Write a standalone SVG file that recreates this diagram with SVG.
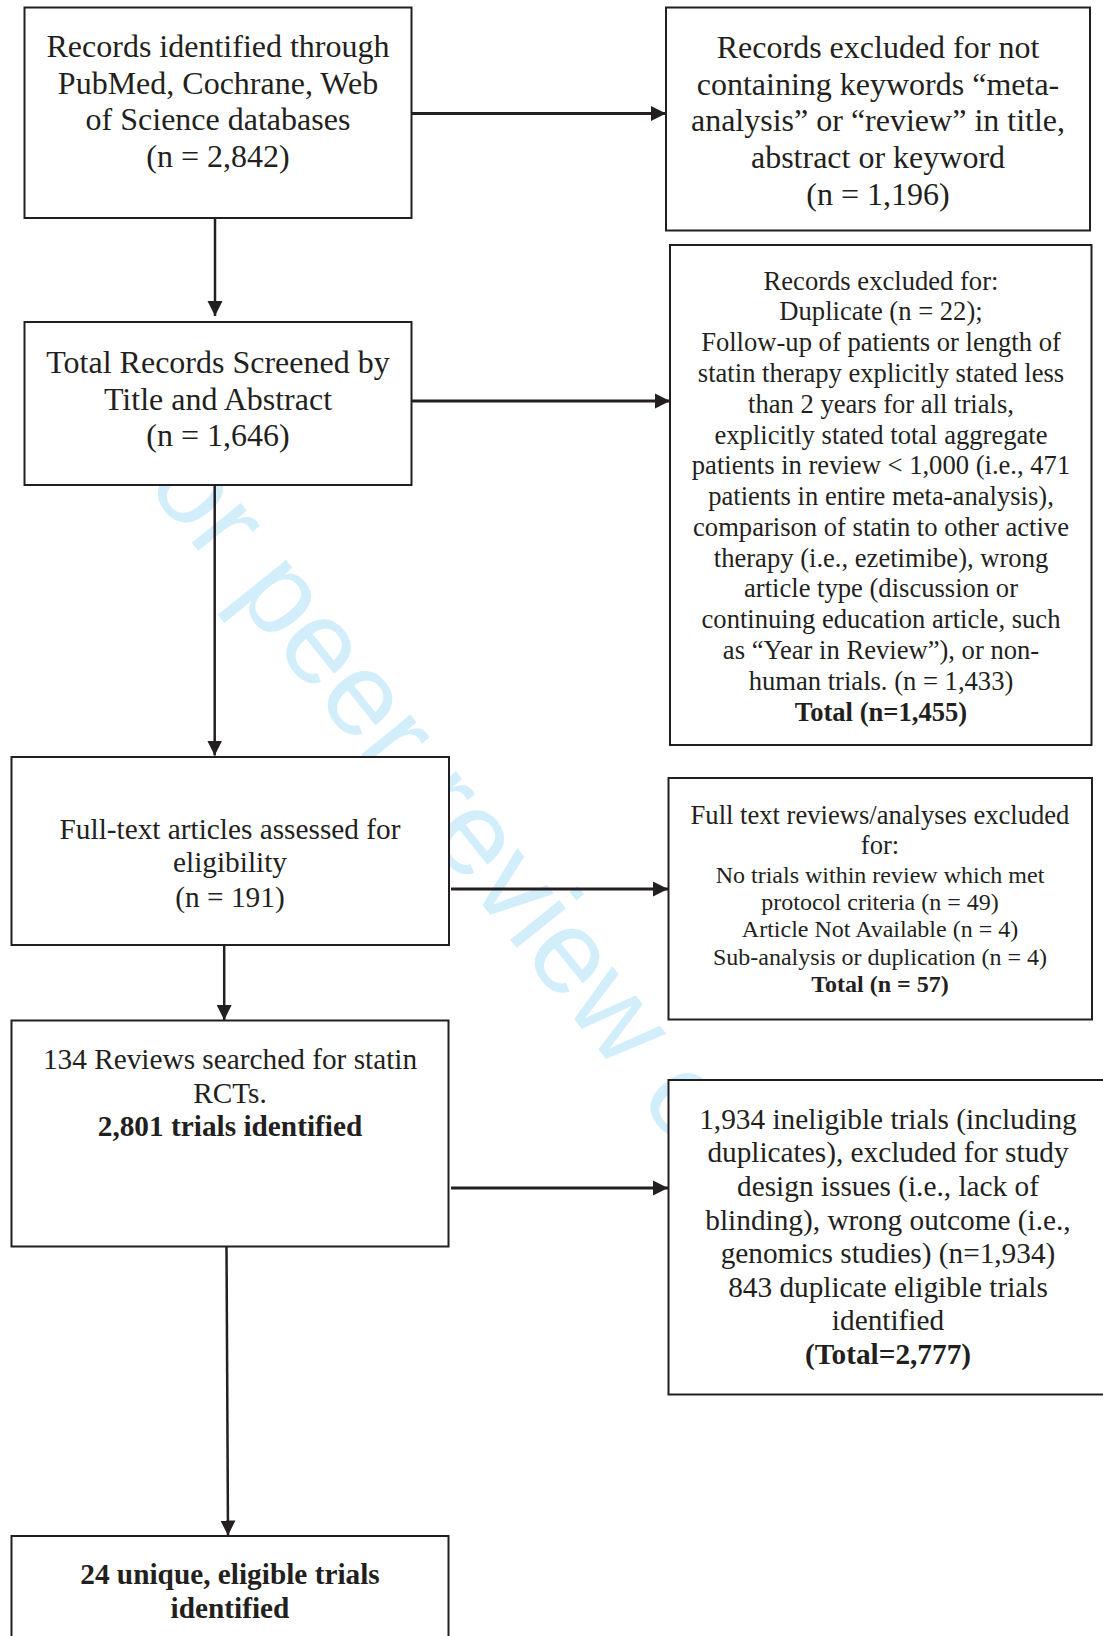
<svg xmlns="http://www.w3.org/2000/svg" width="1103" height="1636" viewBox="0 0 1103 1636">
<style>
.bx{fill:#fff;stroke:#231f20;stroke-width:2}
.t{font-family:"Liberation Serif","Times New Roman",serif;fill:#231f20;text-anchor:middle}
.f32{font-size:32px}
.f29{font-size:29.3px}
.f27{font-size:26.6px}
.f24{font-size:24px}
.b{font-weight:bold}
.v{stroke:#231f20;stroke-width:2.5;fill:none}
.h{stroke:#231f20;stroke-width:3;fill:none}
.wm{font-family:"Liberation Sans",Arial,sans-serif;font-size:119px;fill:#d3eefb}
</style>
<defs>
<marker id="ah" markerUnits="userSpaceOnUse" markerWidth="16" markerHeight="16" refX="15" refY="8" orient="auto" viewBox="0 0 16 16">
<path d="M0,0.5 L15,8 L0,15.5 z" fill="#231f20"/>
</marker>
</defs>
<rect width="1103" height="1636" fill="#fff"/>
<text class="wm" transform="translate(99.5,428) rotate(51.25)">For peer review only</text>

<g id="connectors">
<line class="h" x1="412" y1="113.5" x2="666" y2="113.5" marker-end="url(#ah)"/>
<line class="v" x1="215" y1="218" x2="215" y2="316" marker-end="url(#ah)"/>
<line class="h" x1="412" y1="401" x2="670" y2="401" marker-end="url(#ah)"/>
<line class="v" x1="214.7" y1="485" x2="214.7" y2="755.5" marker-end="url(#ah)"/>
<line class="h" x1="451" y1="889" x2="668" y2="889" marker-end="url(#ah)"/>
<line class="v" x1="224.2" y1="945" x2="224.2" y2="1020" marker-end="url(#ah)"/>
<line class="h" x1="451" y1="1188" x2="668" y2="1188" marker-end="url(#ah)"/>
<line class="v" x1="226.5" y1="1246.5" x2="228" y2="1535.5" marker-end="url(#ah)"/>
</g>

<g id="identified">
<rect class="bx" x="24.5" y="7.5" width="387" height="210.5"/>
<text class="t f32" x="218"><tspan x="218" y="57">Records identified through</tspan><tspan x="218" y="93.5">PubMed, Cochrane, Web</tspan><tspan x="218" y="130">of Science databases</tspan><tspan x="218" y="166.5">(n = 2,842)</tspan></text>
</g>

<g id="excluded-keywords">
<rect class="bx" x="666" y="7.5" width="424" height="223"/>
<text class="t f32"><tspan x="878" y="58">Records excluded for not</tspan><tspan x="878" y="94.5">containing keywords “meta-</tspan><tspan x="878" y="131">analysis” or “review” in title,</tspan><tspan x="878" y="167.5">abstract or keyword</tspan><tspan x="878" y="204.5">(n = 1,196)</tspan></text>
</g>

<g id="screened">
<rect class="bx" x="24.5" y="322" width="387" height="163"/>
<text class="t f32"><tspan x="218" y="373">Total Records Screened by</tspan><tspan x="218" y="409.5">Title and Abstract</tspan><tspan x="218" y="446">(n = 1,646)</tspan></text>
</g>

<g id="excluded-screening">
<rect class="bx" x="670" y="245" width="421.5" height="500"/>
<text class="t f27"><tspan x="881" y="289.5">Records excluded for:</tspan><tspan x="881" y="320.3">Duplicate (n = 22);</tspan><tspan x="881" y="351.1">Follow-up of patients or length of</tspan><tspan x="881" y="381.9">statin therapy explicitly stated less</tspan><tspan x="881" y="412.7">than 2 years for all trials,</tspan><tspan x="881" y="443.5">explicitly stated total aggregate</tspan><tspan x="881" y="474.2">patients in review &lt; 1,000 (i.e., 471</tspan><tspan x="881" y="505">patients in entire meta-analysis),</tspan><tspan x="881" y="535.8">comparison of statin to other active</tspan><tspan x="881" y="566.6">therapy (i.e., ezetimibe), wrong</tspan><tspan x="881" y="597.4">article type (discussion or</tspan><tspan x="881" y="628.2">continuing education article, such</tspan><tspan x="881" y="659">as “Year in Review”), or non-</tspan><tspan x="881" y="689.8">human trials. (n = 1,433)</tspan><tspan x="881" y="720.5" class="b">Total (n=1,455)</tspan></text>
</g>

<g id="fulltext">
<rect class="bx" x="11.5" y="757" width="437.5" height="188"/>
<text class="t f29"><tspan x="230" y="838.5">Full-text articles assessed for</tspan><tspan x="230" y="872">eligibility</tspan><tspan x="230" y="906.5">(n = 191)</tspan></text>
</g>

<g id="excluded-fulltext">
<rect class="bx" x="668.5" y="778" width="423.5" height="241.5"/>
<text class="t f27"><tspan x="880" y="823.5">Full text reviews/analyses excluded</tspan><tspan x="880" y="854">for:</tspan></text>
<text class="t f24"><tspan x="880" y="882.5">No trials within review which met</tspan><tspan x="880" y="909.5">protocol criteria (n = 49)</tspan><tspan x="880" y="937">Article Not Available (n = 4)</tspan><tspan x="880" y="964.5">Sub-analysis or duplication (n = 4)</tspan><tspan x="880" y="992" class="b">Total (n = 57)</tspan></text>
</g>

<g id="reviews-searched">
<rect class="bx" x="11.5" y="1020.5" width="437" height="226"/>
<text class="t f29"><tspan x="230" y="1068.5">134 Reviews searched for statin</tspan><tspan x="230" y="1102.5">RCTs.</tspan><tspan x="230" y="1136" class="b">2,801 trials identified</tspan></text>
</g>

<g id="ineligible">
<rect class="bx" x="668.5" y="1080" width="445" height="314.5"/>
<text class="t f29"><tspan x="888" y="1128.5">1,934 ineligible trials (including</tspan><tspan x="888" y="1162">duplicates), excluded for study</tspan><tspan x="888" y="1195.5">design issues (i.e., lack of</tspan><tspan x="888" y="1229.5">blinding), wrong outcome (i.e.,</tspan><tspan x="888" y="1263">genomics studies) (n=1,934)</tspan><tspan x="888" y="1296.5">843 duplicate eligible trials</tspan><tspan x="888" y="1330">identified</tspan><tspan x="888" y="1363.5" class="b">(Total=2,777)</tspan></text>
</g>

<g id="unique">
<rect class="bx" x="11.5" y="1536" width="437" height="120"/>
<text class="t f29 b"><tspan x="230" y="1584">24 unique, eligible trials</tspan><tspan x="230" y="1617.5">identified</tspan></text>
</g>
</svg>
